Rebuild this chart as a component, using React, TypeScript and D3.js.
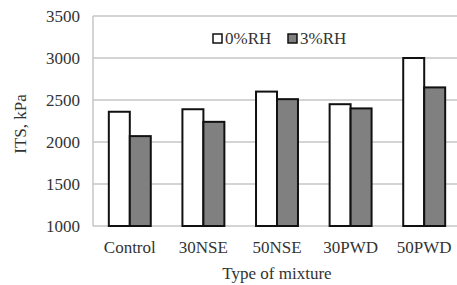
import React, { useEffect, useRef } from 'react';
import * as d3 from 'd3';

const categories = ['Control', '30NSE', '50NSE', '30PWD', '50PWD'];
const seriesNames = ['0%RH', '3%RH'];
const rh0 = [2360, 2390, 2600, 2450, 3000];
const rh3 = [2070, 2240, 2510, 2400, 2650];
const yTicks = [1000, 1500, 2000, 2500, 3000, 3500];

const fills = ['#ffffff', '#808080'];

const App: React.FC = () => {
  const svgRef = useRef<SVGSVGElement>(null);

  useEffect(() => {
    if (!svgRef.current) return;
    const W = 457;
    const H = 285;
    const margin = { top: 16, right: -4, bottom: 59, left: 93 };
    const width = W - margin.left - margin.right;
    const height = H - margin.top - margin.bottom;
    const font = '"Liberation Serif", "Times New Roman", serif';

    const svg = d3.select(svgRef.current);
    svg.selectAll('*').remove();

    const g = svg.append('g').attr('transform', `translate(${margin.left},${margin.top})`);

    const x = d3.scaleBand<string>()
      .domain(categories)
      .range([0, width])
      .paddingInner(0.43)
      .paddingOuter(0.215);

    const xs = d3.scaleBand<string>()
      .domain(seriesNames)
      .range([0, x.bandwidth()]);

    const y = d3.scaleLinear().domain([1000, 3500]).range([height, 0]);

    // gridlines
    g.selectAll('.grid')
      .data(yTicks)
      .enter()
      .append('line')
      .attr('x1', 0)
      .attr('x2', width)
      .attr('y1', d => y(d))
      .attr('y2', d => y(d))
      .attr('stroke', '#c6c6c6')
      .attr('stroke-width', 1.5);

    // left frame line
    g.append('line')
      .attr('x1', 0).attr('x2', 0)
      .attr('y1', 0).attr('y2', height)
      .attr('stroke', '#c6c6c6')
      .attr('stroke-width', 1.5);

    // y tick labels
    g.selectAll('.ylab')
      .data(yTicks)
      .enter()
      .append('text')
      .attr('x', -13)
      .attr('y', d => y(d))
      .attr('dy', '0.35em')
      .attr('text-anchor', 'end')
      .attr('font-family', font)
      .attr('font-size', 17)
      .attr('fill', '#333')
      .text(d => d);

    // bars
    const rows = categories.map((c, i) => ({ c, vals: [rh0[i], rh3[i]] }));
    const groups = g.selectAll('.cat')
      .data(rows)
      .enter()
      .append('g')
      .attr('transform', d => `translate(${x(d.c)},0)`);

    groups.selectAll('rect')
      .data(d => d.vals.map((v, j) => ({ s: seriesNames[j], v, j })))
      .enter()
      .append('rect')
      .attr('x', d => xs(d.s)!)
      .attr('y', d => y(d.v))
      .attr('width', xs.bandwidth())
      .attr('height', d => y(1000) - y(d.v))
      .attr('fill', d => fills[d.j])
      .attr('stroke', '#111')
      .attr('stroke-width', 2);

    // x labels
    g.selectAll('.xlab')
      .data(categories)
      .enter()
      .append('text')
      .attr('x', d => x(d)! + x.bandwidth() / 2)
      .attr('y', height + 27)
      .attr('text-anchor', 'middle')
      .attr('font-family', font)
      .attr('font-size', 17)
      .attr('fill', '#333')
      .text(d => d);

    // axis titles
    svg.append('text')
      .attr('x', 277)
      .attr('y', 279)
      .attr('text-anchor', 'middle')
      .attr('font-family', font)
      .attr('font-size', 17)
      .attr('fill', '#333')
      .text('Type of mixture');

    svg.append('text')
      .attr('transform', 'translate(26,124) rotate(-90)')
      .attr('text-anchor', 'middle')
      .attr('font-family', font)
      .attr('font-size', 17)
      .attr('fill', '#333')
      .text('ITS, kPa');

    // legend
    const legendX = [213, 288];
    seriesNames.forEach((s, i) => {
      svg.append('rect')
        .attr('x', legendX[i])
        .attr('y', 34)
        .attr('width', 9)
        .attr('height', 9)
        .attr('fill', fills[i])
        .attr('stroke', '#111')
        .attr('stroke-width', 1.5);
      svg.append('text')
        .attr('x', legendX[i] + 12)
        .attr('y', 44)
        .attr('font-family', font)
        .attr('font-size', 17)
        .attr('fill', '#333')
        .text(s);
    });
  }, []);

  return (
    <div style={{ position: 'absolute', left: 0, top: 0, width: 457, height: 285, background: '#fff' }}>
      <svg ref={svgRef} width={457} height={285} style={{ display: 'block' }} />
    </div>
  );
};

export default App;
